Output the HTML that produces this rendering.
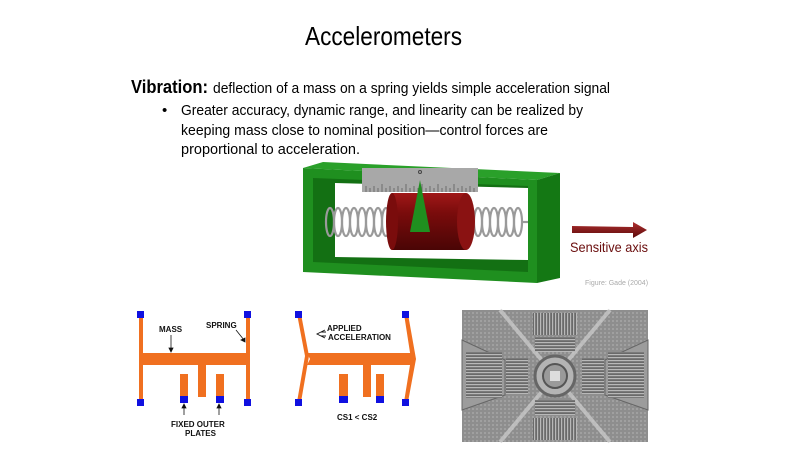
<!DOCTYPE html>
<html><head><meta charset="utf-8"><style>
html,body{margin:0;padding:0;background:#fff;}
svg{display:block;font-family:"Liberation Sans",sans-serif;}
</style></head><body>
<svg width="800" height="450" viewBox="0 0 800 450" xmlns="http://www.w3.org/2000/svg">
<defs>
<linearGradient id="cyl" x1="0" y1="0" x2="0" y2="1">
<stop offset="0" stop-color="#a01818"/><stop offset="0.35" stop-color="#7a0c0c"/><stop offset="1" stop-color="#4a0505"/>
</linearGradient>
<linearGradient id="arr" x1="0" y1="0" x2="0" y2="1">
<stop offset="0" stop-color="#b03030"/><stop offset="1" stop-color="#5a0808"/>
</linearGradient>
<pattern id="chip" width="4" height="4" patternUnits="userSpaceOnUse">
<rect width="4" height="4" fill="#8e8e8e"/><rect width="2" height="2" fill="#a0a0a0"/>
</pattern>
<pattern id="comb" width="3" height="3" patternUnits="userSpaceOnUse">
<rect width="3" height="3" fill="#6a6a6a"/><rect width="3" height="1.2" fill="#b8b8b8"/>
</pattern>
<pattern id="combv" width="3" height="3" patternUnits="userSpaceOnUse">
<rect width="3" height="3" fill="#6a6a6a"/><rect width="1.2" height="3" fill="#b8b8b8"/>
</pattern>
</defs>

<text x="305" y="45" font-size="26" textLength="157" lengthAdjust="spacingAndGlyphs">Accelerometers</text>
<text x="131" y="93" font-size="18" font-weight="bold" textLength="77" lengthAdjust="spacingAndGlyphs">Vibration:</text>
<text x="213" y="93" font-size="15" textLength="397" lengthAdjust="spacingAndGlyphs">deflection of a mass on a spring yields simple acceleration signal</text>
<text x="162" y="115" font-size="15">•</text>
<text x="181" y="115" font-size="15" textLength="402" lengthAdjust="spacingAndGlyphs">Greater accuracy, dynamic range, and linearity can be realized by</text>
<text x="181" y="135" font-size="15" textLength="367" lengthAdjust="spacingAndGlyphs">keeping mass close to nominal position—control forces are</text>
<text x="181" y="154" font-size="15" textLength="179" lengthAdjust="spacingAndGlyphs">proportional to acceleration.</text>

<polygon points="303,168 323,162 560,173 537,180" fill="#2aa02a"/>
<polygon points="537,180 560,173 560,278 537,283" fill="#147814"/>
<polygon points="303,168 537,180 537,283 303,272" fill="#1f8f1f"/>
<polygon points="313,178 528,186 528,272 313,262" fill="#137013"/>
<polygon points="335,183 528,188 528,260 335,257" fill="#ffffff"/>

<rect x="362" y="168" width="116" height="24" fill="#a8a8a8"/>
<g stroke="#555" stroke-width="0.7">
<path d="M366 192v-6M370 192v-4M374 192v-6M378 192v-4M382 192v-8M386 192v-4M390 192v-6M394 192v-4M398 192v-6M402 192v-4M406 192v-8M410 192v-4M414 192v-6M418 192v-4M422 192v-8M426 192v-4M430 192v-6M434 192v-4M438 192v-8M442 192v-4M446 192v-6M450 192v-4M454 192v-8M458 192v-4M462 192v-6M466 192v-4M470 192v-6M474 192v-4"/>
</g>
<circle cx="420" cy="172" r="1.5" fill="none" stroke="#444"/>

<g fill="none" stroke="#9a9a9a" stroke-width="2.2">
<ellipse cx="330" cy="222" rx="4" ry="14"/>
<ellipse cx="338" cy="222" rx="4" ry="14"/>
<ellipse cx="346" cy="222" rx="4" ry="14"/>
<ellipse cx="354" cy="222" rx="4" ry="14"/>
<ellipse cx="362" cy="222" rx="4" ry="14"/>
<ellipse cx="370" cy="222" rx="4" ry="14"/>
<ellipse cx="378" cy="222" rx="4" ry="14"/>
<ellipse cx="386" cy="222" rx="4" ry="14"/>
<ellipse cx="478" cy="222" rx="4" ry="14"/>
<ellipse cx="486" cy="222" rx="4" ry="14"/>
<ellipse cx="494" cy="222" rx="4" ry="14"/>
<ellipse cx="502" cy="222" rx="4" ry="14"/>
<ellipse cx="510" cy="222" rx="4" ry="14"/>
<ellipse cx="518" cy="222" rx="4" ry="14"/>
<line x1="521" y1="222" x2="528" y2="222"/>
</g>

<rect x="392" y="193" width="74" height="57" fill="url(#cyl)"/>
<ellipse cx="392" cy="221.5" rx="6" ry="28.5" fill="#7a0c0c"/>
<ellipse cx="466" cy="221.5" rx="9" ry="28.5" fill="#8a1212"/>
<polygon points="420,180 410,232 430,232" fill="#1f8f1f"/>

<polygon points="572,226 633,227 633,222 647,230 633,238 633,233 572,233" fill="url(#arr)"/>
<text x="570" y="252" font-size="14" fill="#6a0d0d" textLength="78" lengthAdjust="spacingAndGlyphs">Sensitive axis</text>
<text x="585" y="285" font-size="7" fill="#aaa">Figure: Gade (2004)</text>

<g fill="#f07020">
<rect x="139" y="314" width="4" height="88"/>
<rect x="246" y="314" width="4" height="88"/>
<rect x="143" y="353" width="107" height="12"/>
<rect x="198" y="365" width="8" height="32"/>
<rect x="180" y="374" width="8" height="23"/>
<rect x="216" y="374" width="8" height="23"/>
</g>
<g fill="#1010e0">
<rect x="137" y="311" width="7" height="7"/><rect x="244" y="311" width="7" height="7"/>
<rect x="137" y="399" width="7" height="7"/><rect x="244" y="399" width="7" height="7"/>
<rect x="180" y="396" width="8" height="7"/><rect x="216" y="396" width="8" height="7"/>
</g>
<g font-size="8" font-weight="bold" fill="#111">
<text x="159" y="332">MASS</text>
<text x="206" y="328">SPRING</text>
<text x="171" y="427">FIXED OUTER</text>
<text x="185" y="436">PLATES</text>
<text x="327" y="331">APPLIED</text>
<text x="328" y="340">ACCELERATION</text>
<text x="337" y="420">CS1 &lt; CS2</text>
</g>
<g stroke="#111" stroke-width="0.8" fill="#111">
<line x1="171" y1="335" x2="171" y2="351"/><polygon points="169,348 173,348 171,352"/>
<line x1="236" y1="330" x2="244" y2="340"/><polygon points="241,340 245,338 245,342"/>
<line x1="184" y1="415" x2="184" y2="405"/><polygon points="182,408 186,408 184,404"/>
<line x1="219" y1="415" x2="219" y2="405"/><polygon points="217,408 221,408 219,404"/>
</g>
<path d="M325,330 L317,334 L325,338 M321,332 H326 M321,336 H326" fill="none" stroke="#111" stroke-width="0.9"/>

<g fill="#f07020">
<polygon points="297,314 301,314 309,356 301,402 297,402 305,356"/>
<polygon points="404,314 408,314 416,359 408,402 404,402 411,359"/>
<polygon points="307,353 412,353 416,359 412,365 307,365 310,359"/>
<rect x="363" y="365" width="8" height="32"/>
<rect x="339" y="374" width="9" height="23"/>
<rect x="376" y="374" width="8" height="23"/>
</g>
<g fill="#1010e0">
<rect x="295" y="311" width="7" height="7"/><rect x="402" y="311" width="7" height="7"/>
<rect x="295" y="399" width="7" height="7"/><rect x="402" y="399" width="7" height="7"/>
<rect x="339" y="396" width="9" height="7"/><rect x="376" y="396" width="8" height="7"/>
</g>

<rect x="462" y="310" width="186" height="132" fill="url(#chip)"/>
<polygon points="462,340 505,360 505,395 462,410" fill="#9c9c9c" stroke="#666"/>
<polygon points="648,340 605,360 605,395 648,410" fill="#9c9c9c" stroke="#666"/>
<g stroke="#d0d0d0" stroke-width="4" opacity="0.7">
<line x1="500" y1="310" x2="555" y2="376"/><line x1="610" y1="310" x2="555" y2="376"/>
<line x1="500" y1="442" x2="555" y2="376"/><line x1="610" y1="442" x2="555" y2="376"/>
</g>
<rect x="533" y="313" width="44" height="22" fill="url(#combv)"/>
<rect x="533" y="418" width="44" height="22" fill="url(#combv)"/>
<rect x="506" y="358" width="22" height="36" fill="url(#comb)"/>
<rect x="582" y="358" width="22" height="36" fill="url(#comb)"/>
<rect x="466" y="352" width="36" height="46" fill="url(#comb)"/>
<rect x="608" y="352" width="36" height="46" fill="url(#comb)"/>
<rect x="535" y="337" width="40" height="15" fill="url(#comb)"/>
<rect x="535" y="400" width="40" height="15" fill="url(#comb)"/>
<circle cx="555" cy="376" r="20" fill="#b4b4b4" stroke="#666" stroke-width="3"/>
<circle cx="555" cy="376" r="12" fill="#9a9a9a" stroke="#555" stroke-width="2"/>
<rect x="550" y="371" width="10" height="10" fill="#ddd"/>
</svg>
</body></html>
